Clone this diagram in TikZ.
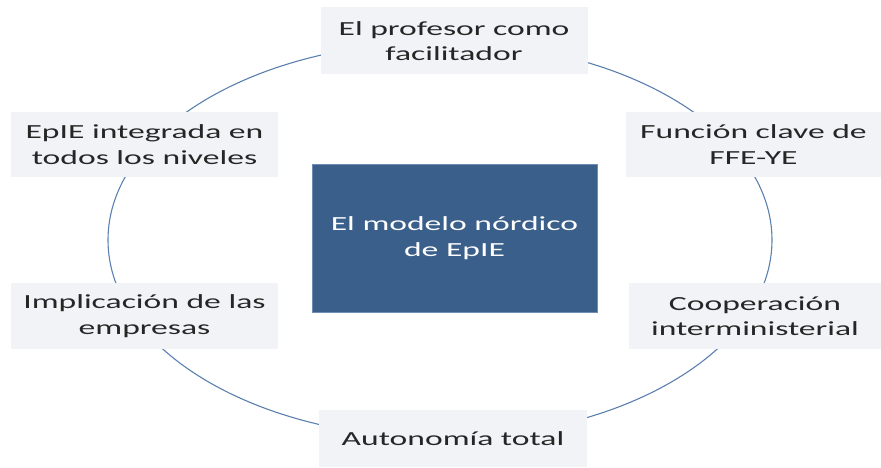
\documentclass[tikz,border=0pt]{standalone}
\usepackage{fontspec}
\setmainfont{Carlito}[FakeStretch=1.68]
\definecolor{boxfill}{HTML}{F2F3F6}
\definecolor{ringcol}{HTML}{5B80AE}
\definecolor{centerfill}{HTML}{3A5F8A}
\definecolor{centerdraw}{HTML}{6E8DB3}
\definecolor{txt}{HTML}{262626}
\begin{document}
\begin{tikzpicture}[x=1pt,y=-1pt,
  item/.style={fill=boxfill, draw=none, align=center, inner sep=0pt,
    font=\fontsize{20}{25.5}\selectfont, text=txt},
  hub/.style={fill=centerfill, draw=centerdraw, line width=0.8pt, align=center, inner sep=0pt,
    font=\fontsize{20}{25.5}\selectfont, text=white,
    minimum width=285pt, minimum height=148pt},
  ring/.style={draw=ringcol, line width=1.1pt}]
\useasboundingbox (0,0) rectangle (881,468);
\draw[ring] (440,240) ellipse [x radius=332pt, y radius=198pt];
\node[item, minimum width=267pt, minimum height=67pt] (top) at (454,41) {El profesor como\\facilitador};
\node[item, minimum width=255pt, minimum height=65pt] (rt) at (753.5,144.5) {Función clave de\\FFE-YE};
\node[item, minimum width=252pt, minimum height=66pt] (rb) at (755,316) {Cooperación\\interministerial};
\node[item, minimum width=268pt, minimum height=57pt] (bot) at (453,438.5) {Autonomía total};
\node[item, minimum width=267pt, minimum height=66pt] (lb) at (144.5,316) {Implicación de las\\empresas};
\node[item, minimum width=267pt, minimum height=65pt] (lt) at (144.5,144.5) {EpIE integrada en\\todos los niveles};
\node[hub] (c) at (454.5,238) {El modelo nórdico\\de EpIE};
\end{tikzpicture}
\end{document}
